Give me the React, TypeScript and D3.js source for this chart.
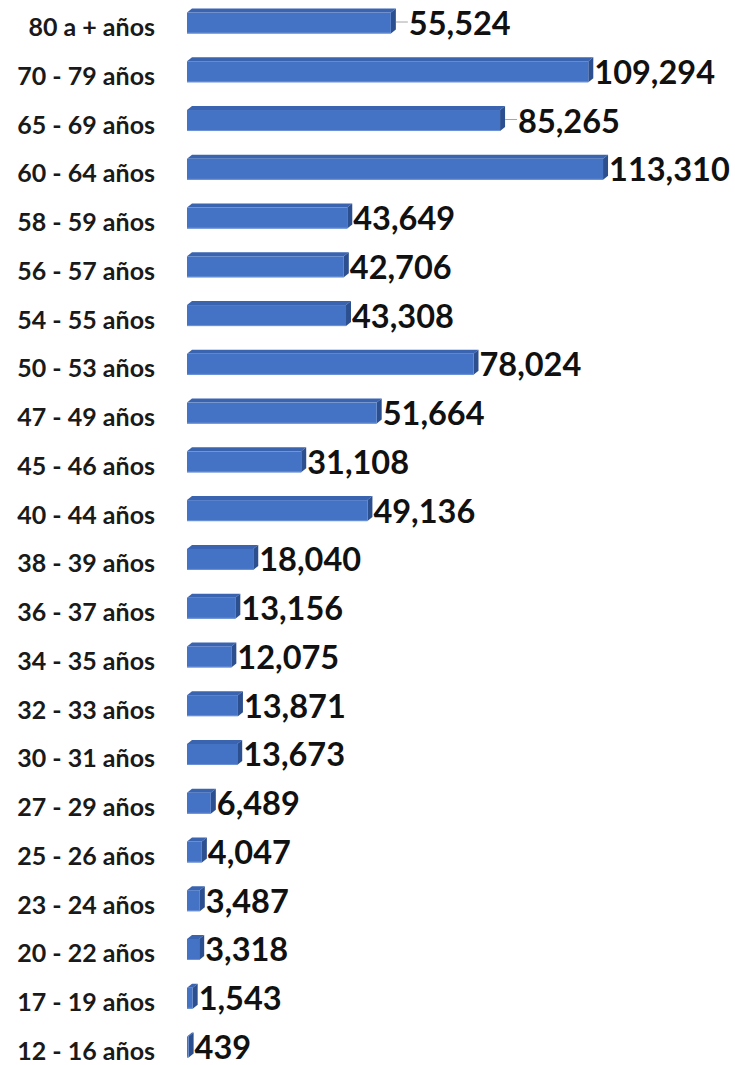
import React from "react";
import * as d3 from "d3";

const categories = [
  "80 a + años", "70 - 79 años", "65 - 69 años", "60 - 64 años", "58 - 59 años",
  "56 - 57 años", "54 - 55 años", "50 - 53 años", "47 - 49 años", "45 - 46 años",
  "40 - 44 años", "38 - 39 años", "36 - 37 años", "34 - 35 años", "32 - 33 años",
  "30 - 31 años", "27 - 29 años", "25 - 26 años", "23 - 24 años", "20 - 22 años",
  "17 - 19 años", "12 - 16 años",
];
const values = [
  55524, 109294, 85265, 113310, 43649, 42706, 43308, 78024, 51664, 31108,
  49136, 18040, 13156, 12075, 13871, 13673, 6489, 4047, 3487, 3318, 1543, 439,
];
const leaderLabels = ["80 a + años", "65 - 69 años"];

const W = 735;
const H = 1065;

export default function App() {
  const x = d3.scaleLinear().domain([0, 120000]).range([187, 627.6]);
  const y = d3.scalePoint<string>().domain(categories).range([23, 1047]);
  const barH = 21;
  const dx = 5;
  const dy = 4;
  const fmt = d3.format(",");

  return (
    <svg
      width={W}
      height={H}
      style={{ position: "absolute", left: 0, top: 0, background: "#fff" }}
      fontFamily="Lato, 'Open Sans', sans-serif"
    >
      {categories.map((c, i) => {
        const yc = y(c)!;
        const x0 = x(0);
        const x1 = x(values[i]);
        const top = yc - barH / 2;
        const bot = yc + barH / 2;
        const hasLeader = leaderLabels.includes(c);
        const lx = x1 + dx + (hasLeader ? 13 : 1);
        return (
          <g key={c}>
            <path
              d={`M${x0},${top} L${x0 + dx},${top - dy} L${x1 + dx},${top - dy} L${x1},${top} Z`}
              fill="#3A64B0"
            />
            <path
              d={`M${x1},${top} L${x1 + dx},${top - dy} L${x1 + dx},${bot - dy} L${x1},${bot} Z`}
              fill="#2C4F8F"
            />
            <rect x={x0} y={top} width={Math.max(0, x1 - x0)} height={barH} fill="#4472C4" />
            <line x1={x0} x2={x1} y1={bot - 0.5} y2={bot - 0.5} stroke="#6E93D6" strokeWidth={1} />
            {hasLeader && (
              <line x1={x1 + dx} x2={lx - 1} y1={yc - 1} y2={yc - 1} stroke="#A6A6A6" strokeWidth={1} />
            )}
            <text
              x={155}
              y={yc + 13}
              textAnchor="end"
              fontSize={25}
              fontWeight={700}
              fill="#1a1a1a"
            >
              {c}
            </text>
            <text x={lx} y={yc + 12} fontSize={32.5} fontWeight={700} fill="#111">
              {fmt(values[i])}
            </text>
          </g>
        );
      })}
    </svg>
  );
}
